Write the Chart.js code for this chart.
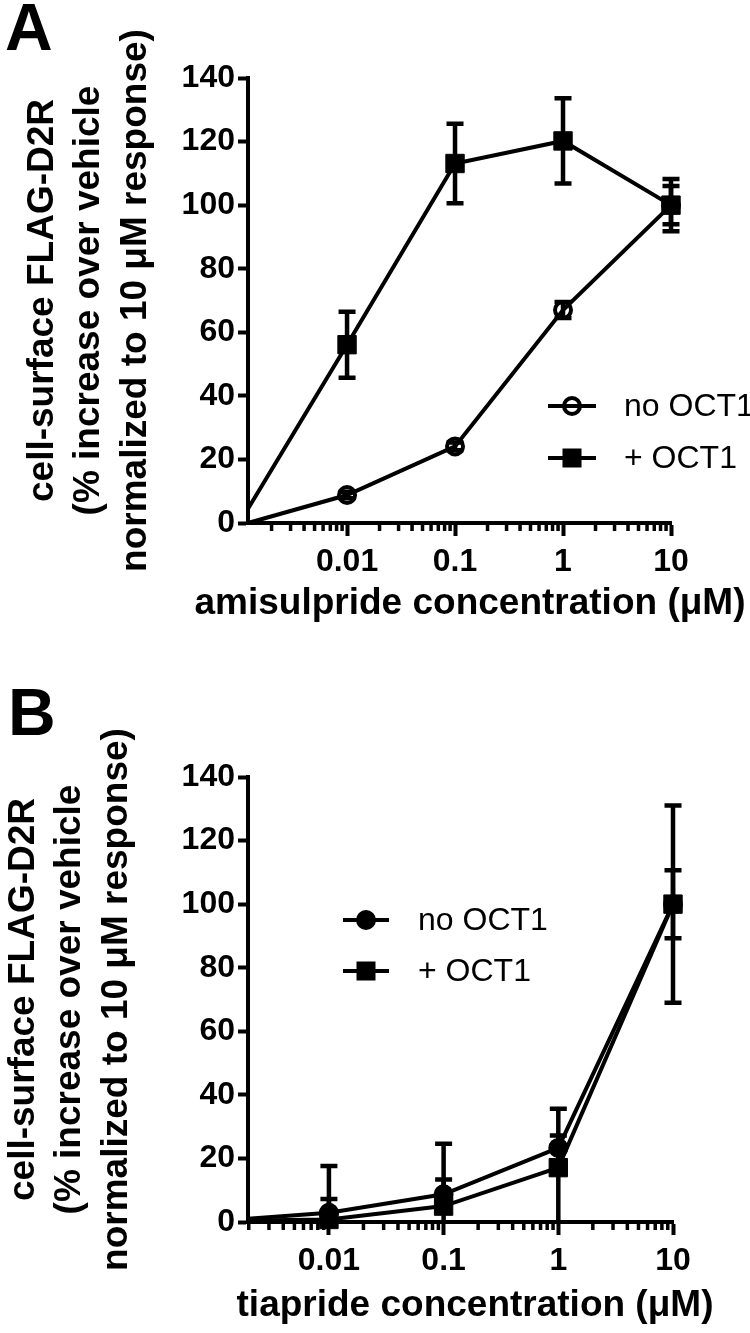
<!DOCTYPE html>
<html>
<head>
<meta charset="utf-8">
<script src="https://cdn.jsdelivr.net/npm/chart.js@4/dist/chart.umd.min.js"></script>
<style>
  html, body { margin: 0; padding: 0; background: #fff; }
  canvas { display: block; }
</style>
</head>
<body>
<canvas id="panelA" width="750" height="666"></canvas>
<canvas id="panelB" width="750" height="667"></canvas>
<script>
// concentrations in uM, first entry = vehicle, drawn at the left end of the log axis
const amisulprideConc = [0.00121, 0.01, 0.1, 1, 10];
const amisulprideNoOct1 = [0, 8.8, 24.1, 67, 100];
const amisulprideNoOct1Sem = [0, 1, 1.2, 2.5, 6];
const amisulpridePlusOct1 = [4.5, 56.1, 113.1, 120.2, 100];
const amisulpridePlusOct1Sem = [0, 10.4, 12.5, 13.4, 8.2];

const tiaprideConc = [0.00197, 0.01, 0.1, 1, 10];
const tiaprideNoOct1 = [1, 2.9, 8.7, 23.3, 100];
const tiaprideNoOct1Sem = [0, 4.3, 4.7, 3.9, 10.7];
const tiapridePlusOct1 = [0.5, 0.8, 5, 17.1, 100];
const tiapridePlusOct1Sem = [0, 16.8, 19.6, 18.5, 31];

const xMajorTicks = [0.01, 0.1, 1, 10];
const xTickLabels = ['0.01', '0.1', '1', '10'];
const yTicks = [0, 20, 40, 60, 80, 100, 120, 140];
const seriesLabels = ['no OCT1', '+ OCT1'];
const yTitle = ['cell-surface FLAG-D2R', '(% increase over vehicle', 'normalized to 10 \u03bcM response)'];

const FONT = "'Liberation Sans', Arial, sans-serif";
const LW = 4;

function majorIndex(v) {
    return xMajorTicks.findIndex(m => Math.abs(m - v) < m * 1e-6);
}

// error bars, minor log ticks, panel letter, x title and legend
const gpExtras = {
    id: 'gpExtras',
    afterDatasetsDraw(chart) {
        const ctx = chart.ctx;
        const xs = chart.scales.x, ys = chart.scales.y;
        ctx.save();
        ctx.strokeStyle = '#000';
        ctx.lineWidth = 4.5;
        chart.data.datasets.forEach(ds => {
            ds.data.forEach((p, i) => {
                const e = ds.errors[i];
                if (!e) return;
                const px = xs.getPixelForValue(p.x);
                const top = ys.getPixelForValue(Math.min(p.y + e, ys.max));
                const bot = ys.getPixelForValue(Math.max(p.y - e, ys.min));
                ctx.beginPath();
                ctx.moveTo(px, top); ctx.lineTo(px, bot);
                ctx.moveTo(px - 8.5, top); ctx.lineTo(px + 8.5, top);
                if (p.y - e > ys.min) { ctx.moveTo(px - 8.5, bot); ctx.lineTo(px + 8.5, bot); }
                ctx.stroke();
            });
        });
        ctx.restore();
    },
    afterDraw(chart, args, o) {
        const ctx = chart.ctx;
        const xs = chart.scales.x;
        const area = chart.chartArea;
        ctx.save();
        // minor ticks
        ctx.strokeStyle = '#000';
        ctx.lineWidth = 3.5;
        xs.ticks.forEach(t => {
            if (majorIndex(t.value) >= 0) return;
            const px = xs.getPixelForValue(t.value);
            ctx.beginPath();
            ctx.moveTo(px, area.bottom);
            ctx.lineTo(px, area.bottom + 8);
            ctx.stroke();
        });
        ctx.fillStyle = '#000';
        // panel letter
        ctx.font = 'bold 66px ' + FONT;
        ctx.textAlign = 'left';
        ctx.textBaseline = 'alphabetic';
        ctx.fillText(o.letter, o.letterX, o.letterY);
        // x axis title
        ctx.font = 'bold 37px ' + FONT;
        ctx.textAlign = 'center';
        ctx.textBaseline = 'middle';
        ctx.fillText(o.xTitle, o.xTitleX, area.bottom + o.xTitleOffset);
        // legend
        ctx.font = '32px ' + FONT;
        ctx.textAlign = 'left';
        chart.data.datasets.forEach((ds, i) => {
            const y = o.legendY + i * o.legendGap;
            ctx.lineWidth = LW;
            ctx.beginPath();
            ctx.moveTo(o.legendX, y);
            ctx.lineTo(o.legendX + o.legendLen, y);
            ctx.stroke();
            const cx = o.legendX + o.legendLen / 2;
            if (ds.pointStyle === 'rect') {
                ctx.fillRect(cx - 9.5, y - 9.5, 19, 19);
            } else {
                ctx.beginPath();
                ctx.arc(cx, y, 8, 0, Math.PI * 2);
                ctx.fillStyle = ds.pointBackgroundColor;
                ctx.fill();
                ctx.stroke();
                ctx.fillStyle = '#000';
            }
            ctx.fillText(ds.label, o.legendTextX, y + 1);
        });
        ctx.restore();
    }
};

function makePanel(id, conc, noOct1, noSem, plusOct1, plusSem, cfg) {
    const radii = conc.map((c, i) => i === 0 ? 0 : 8);
    const sq = conc.map((c, i) => i === 0 ? 0 : 13);
    return new Chart(document.getElementById(id), {
        type: 'line',
        data: {
            datasets: [{
                label: seriesLabels[0],
                data: conc.map((x, i) => ({ x: x, y: noOct1[i] })),
                errors: noSem,
                borderColor: '#000',
                borderWidth: LW,
                pointStyle: 'circle',
                pointRadius: radii,
                pointBackgroundColor: cfg.openCircle ? 'rgba(0,0,0,0)' : '#000',
                pointBorderColor: '#000',
                pointBorderWidth: LW,
                order: 0,
                clip: false
            }, {
                label: seriesLabels[1],
                data: conc.map((x, i) => ({ x: x, y: plusOct1[i] })),
                errors: plusSem,
                borderColor: '#000',
                borderWidth: LW,
                pointStyle: 'rect',
                pointRadius: sq,
                pointBackgroundColor: '#000',
                pointBorderColor: '#000',
                pointBorderWidth: 1,
                order: cfg.openCircle ? 1 : -1,
                clip: false
            }]
        },
        options: {
            responsive: false,
            animation: false,
            devicePixelRatio: 1,
            layout: { padding: { top: cfg.top, right: cfg.right, bottom: 0, left: 0 } },
            scales: {
                x: {
                    type: 'logarithmic',
                    min: conc[0],
                    max: 10,
                    afterBuildTicks(scale) {
                        const ticks = [];
                        [0.001].concat(xMajorTicks).forEach(m => {
                            for (let k = 1; k <= 9; k++) {
                                const v = m * k;
                                if (v >= scale.min && v <= scale.max * 1.0001) ticks.push({ value: v });
                            }
                        });
                        scale.ticks = ticks;
                    },
                    afterFit(scale) { scale.height = cfg.xHeight; },
                    ticks: {
                        autoSkip: false,
                        maxRotation: 0,
                        padding: 7,
                        color: '#000',
                        font: { size: 32, weight: 'bold', family: FONT },
                        callback(value) {
                            const i = majorIndex(value);
                            return i >= 0 ? xTickLabels[i] : '';
                        }
                    },
                    grid: {
                        drawOnChartArea: false,
                        tickLength: 13,
                        tickWidth: LW,
                        tickColor: c => majorIndex(c.tick.value) >= 0 ? '#000' : 'rgba(0,0,0,0)'
                    },
                    border: { width: LW, color: '#000' }
                },
                y: {
                    min: 0,
                    max: 140,
                    afterBuildTicks(scale) { scale.ticks = yTicks.map(v => ({ value: v })); },
                    afterFit(scale) { scale.width = 248; },
                    ticks: {
                        padding: 3,
                        color: '#000',
                        font: { size: 32, weight: 'bold', family: FONT }
                    },
                    grid: { drawOnChartArea: false, tickLength: 10, tickWidth: LW, tickColor: '#000' },
                    border: { width: LW, color: '#000' },
                    title: {
                        display: true,
                        text: yTitle,
                        color: '#000',
                        font: { size: 37, weight: 'bold', family: FONT, lineHeight: 1.26 },
                        padding: { top: cfg.yTitlePad, bottom: 0 }
                    }
                }
            },
            plugins: {
                legend: { display: false },
                tooltip: { enabled: false },
                gpExtras: cfg.extras
            }
        },
        plugins: [gpExtras]
    });
}

makePanel('panelA', amisulprideConc, amisulprideNoOct1, amisulprideNoOct1Sem,
    amisulpridePlusOct1, amisulpridePlusOct1Sem, {
        openCircle: true, top: 78, right: 79, xHeight: 143, yTitlePad: 19,
        extras: {
            letter: 'A', letterX: 5, letterY: 50,
            xTitle: 'amisulpride concentration (\u03bcM)', xTitleX: 470, xTitleOffset: 81,
            legendX: 548, legendY: 406, legendGap: 52, legendLen: 48, legendTextX: 624
        }
    });

makePanel('panelB', tiaprideConc, tiaprideNoOct1, tiaprideNoOct1Sem,
    tiapridePlusOct1, tiapridePlusOct1Sem, {
        openCircle: false, top: 111, right: 77, xHeight: 111, yTitlePad: 0,
        extras: {
            letter: 'B', letterX: 8, letterY: 69,
            xTitle: 'tiapride concentration (\u03bcM)', xTitleX: 475, xTitleOffset: 84,
            legendX: 343, legendY: 254, legendGap: 51, legendLen: 46, legendTextX: 418
        }
    });
</script>
</body>
</html>
